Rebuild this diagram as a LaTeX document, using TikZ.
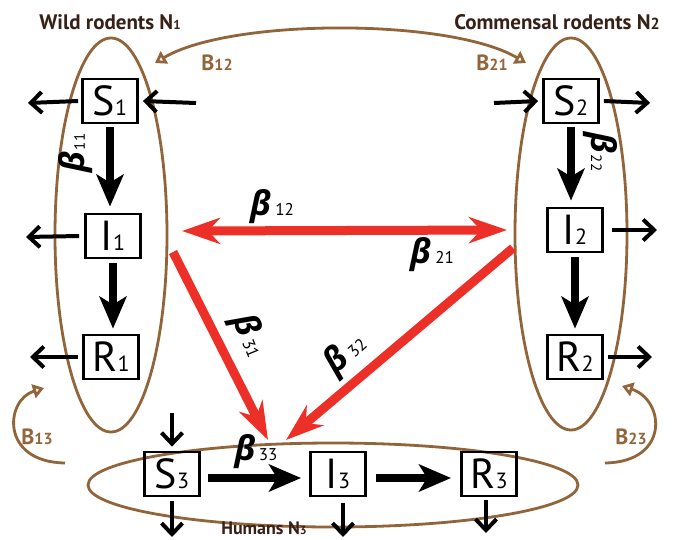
\documentclass[tikz,border=0pt]{standalone}
\usepackage{fontspec}
\setmainfont{PT Sans}
\newfontfamily\grk{Open Sans}
\usetikzlibrary{arrows.meta,shapes.geometric}
\definecolor{rbrown}{RGB}{145,100,58}
\definecolor{rred}{RGB}{236,48,40}
\definecolor{dtext}{RGB}{55,32,22}
\newcommand\lownum[2]{{\fontsize{#1}{#1}\selectfont #2}}
\newcommand\bet{{\grk\bfseries\itshape β}}
\begin{document}
\begin{tikzpicture}[x=1pt,y=-1pt,
  box/.style={draw, line width=2.8pt, minimum width=55pt, minimum height=44pt, inner sep=0pt, font=\fontsize{42}{42}\selectfont},
  pop/.style={draw=rbrown, line width=2.8pt, ellipse, inner sep=0pt},
  thinarr/.style={line width=4pt, -{Straight Barb[length=11pt,width=21pt]}},
  thickarr/.style={line width=8.5pt, -{Stealth[length=32pt,width=27pt,inset=8pt]}},
  redarr/.style={draw=rred, line width=9pt, -{Stealth[length=38pt,width=26pt,inset=12pt]}},
  brarr/.style={draw=rbrown, line width=2.8pt},
  blab/.style={text=rbrown, font=\bfseries\fontsize{22}{22}\selectfont},
  title/.style={text=dtext, font=\bfseries\fontsize{21}{21}\selectfont},
  glab/.style={font=\fontsize{34}{34}\selectfont, inner sep=0pt}
]
\useasboundingbox (0,0) rectangle (673,539);

% population ellipses
\node[pop, minimum width=112pt, minimum height=394pt] (E1) at (111,235) {};
\node[pop, minimum width=112pt, minimum height=392pt] (E2) at (571,234) {};
\node[pop, minimum width=490pt, minimum height=84pt] (E3) at (333,485) {};

% titles
\node[title] (t1) at (110,22) {Wild rodents N\lownum{13}{1}};
\node[title] (t2) at (557,22) {Commensal rodents N\lownum{16}{2}};
\node[title, font=\bfseries\fontsize{18}{18}\selectfont] (t3) at (264,528) {Humans N\lownum{12}{3}};

% compartments
\node[box] (S1) at (110,101) {S\lownum{22}{1}};
\node[box] (I1) at (113,236) {I\lownum{22}{1}};
\node[box] (R1) at (111,357) {R\lownum{22}{1}};
\node[box] (S2) at (571,101) {S\lownum{22}{2}};
\node[box] (I2) at (575,230) {I\lownum{22}{2}};
\node[box] (R2) at (575,357) {R\lownum{22}{2}};
\node[box] (S3) at (172,474) {S\lownum{22}{3}};
\node[box] (I3) at (338,474) {I\lownum{22}{3}};
\node[box] (R3) at (489,474) {R\lownum{22}{3}};

% free ends of thin arrows
\coordinate (s1o) at (28,103);
\coordinate (s1i) at (196,103);
\coordinate (i1o) at (26,237);
\coordinate (r1o) at (30,357);
\coordinate (s2i) at (494,103);
\coordinate (s2o) at (650,103);
\coordinate (i2o) at (657,230);
\coordinate (r2o) at (652,357);
\coordinate (s3i) at (172,413);
\coordinate (s3o) at (172,537);
\coordinate (i3o) at (343,537);
\coordinate (r3o) at (486,533);

\draw[thinarr] ([xshift=-3pt]S1.west) -- (s1o);
\draw[thinarr] (s1i) -- ([xshift=4pt]S1.east);
\draw[thinarr] ([xshift=-5pt]I1.west) -- (i1o);
\draw[thinarr] ([xshift=-4pt]R1.west) -- (r1o);
\draw[thinarr] (s2i) -- ([xshift=-4pt]S2.west);
\draw[thinarr] ([xshift=4pt]S2.east) -- (s2o);
\draw[thinarr] ([xshift=8pt]I2.east) -- (i2o);
\draw[thinarr] ([xshift=4pt]R2.east) -- (r2o);
\draw[thinarr] (s3i) -- ([yshift=4pt]S3.north);
\draw[thinarr] ([yshift=-4pt]S3.south) -- (s3o);
\draw[thinarr] ([xshift=5pt,yshift=-6pt]I3.south) -- (i3o);
\draw[thinarr] ([xshift=-3pt,yshift=-3pt]R3.south) -- (r3o);

% within-population transitions
\draw[thickarr, shorten <=3pt, shorten >=6pt] (S1.south) -- (S1.south |- I1.north);
\draw[thickarr, shorten <=4pt, shorten >=5pt] (I1.south) -- (I1.south |- R1.north);
\draw[thickarr, shorten <=3pt, shorten >=6pt] (S2.south) -- (S2.south |- I2.north);
\draw[thickarr, shorten <=4pt, shorten >=5pt] (I2.south) -- (I2.south |- R2.north);
\draw[thickarr, shorten <=7pt, shorten >=8pt] ([yshift=-4pt]S3.east) -- ([yshift=-4pt]I3.west);
\draw[thickarr, shorten <=9pt, shorten >=9pt] ([yshift=-4pt]I3.east) -- ([yshift=-4pt]R3.west);

% cross-population transmission (red)
\coordinate (r12a) at (182,231);
\coordinate (r12b) at (507,230);
\coordinate (r31a) at (173,252);
\coordinate (r31b) at (268,440);
\coordinate (r32a) at (513,248);
\coordinate (r32b) at (286,440);
\draw[redarr, {Stealth[length=38pt,width=26pt,inset=12pt]}-{Stealth[length=38pt,width=26pt,inset=12pt]}] (r12a) -- (r12b);
\draw[redarr] (r31a) -- (r31b);
\draw[redarr] (r32a) -- (r32b);

% beta labels
\node[glab, rotate=90] (b11) at (76,153) {\bet\hspace{1pt}\lownum{15}{11}};
\node[glab, rotate=-90] (b22) at (600,152) {\bet\hspace{1pt}\lownum{15}{22}};
\node[glab] (b12) at (272,207) {\bet\hspace{4pt}\lownum{17}{12}};
\node[glab] (b21) at (432,255) {\bet\hspace{4pt}\lownum{17}{21}};
\node[glab, rotate=-68] (b31) at (249,336) {\bet\hspace{4pt}\lownum{17}{31}};
\node[glab, rotate=42] (b32) at (346,354) {\bet\hspace{4pt}\lownum{17}{32}};
\node[glab] (b33) at (256,452) {\bet\hspace{3pt}\lownum{17}{33}};

% brown between-population movement
\coordinate (m1) at (155,63);
\coordinate (m2) at (526,63);
\draw[brarr, {Triangle[open,length=11pt,width=14pt]}-{Triangle[open,length=11pt,width=14pt]}] (m1) .. controls (230,18) and (450,18) .. (m2);
\node[blab] (lb12) at (217,63) {B\lownum{16}{12}};
\node[blab] (lb21) at (492,63) {B\lownum{16}{21}};

\coordinate (m13a) at (65,463);
\coordinate (m13b) at (44,388);
\draw[brarr, -{Triangle[open,length=11pt,width=14pt]}] (m13a) .. controls (0,462) and (5,400) .. (m13b);
\node[blab] (lb13) at (37,437) {B\lownum{16}{13}};

\coordinate (m23a) at (605,463);
\coordinate (m23b) at (622,386);
\draw[brarr, -{Triangle[open,length=11pt,width=14pt]}] (m23a) .. controls (670,462) and (665,400) .. (m23b);
\node[blab] (lb23) at (631,437) {B\lownum{16}{23}};
\end{tikzpicture}
\end{document}
